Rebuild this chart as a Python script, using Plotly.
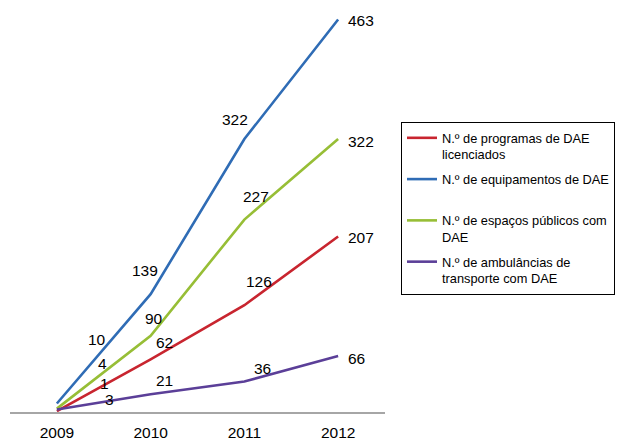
import plotly.graph_objects as go

years = ["2009", "2010", "2011", "2012"]
series_names = [
    "N.º de programas de DAE<br>licenciados",
    "N.º de equipamentos de DAE<br>&nbsp;",
    "N.º de espaços públicos com<br>DAE",
    "N.º de ambulâncias de<br>transporte com DAE",
]
programas = [1, 62, 126, 207]
equipamentos = [10, 139, 322, 463]
espacos = [4, 90, 227, 322]
ambulancias = [3, 21, 36, 66]

values = [programas, equipamentos, espacos, ambulancias]
colors = ["#C8252F", "#2F6CB5", "#97BE36", "#5B3F98"]

# label pixel offsets (dx right, dy down) relative to each point
label_offsets = [
    [(48, -28), (14, -17), (15, -24), (23, 1)],
    [(40, -64), (-6, -24), (-9, -20), (23, 1)],
    [(46, -45), (3, -17), (12, -23), (23, 2)],
    [(53, -10), (14, -14), (18, -13), (18, 2)],
]

FONT = "Liberation Sans, Arial, Helvetica, sans-serif"

fig = go.Figure()
for i, (name, vals, col) in enumerate(zip(series_names, values, colors)):
    fig.add_trace(go.Scatter(
        x=years, y=vals, name=name, mode="lines",
        line=dict(color=col, width=2.6),
        cliponaxis=False, legendgroup=f"g{i}",
    ))

annotations = []
for vals, offs in zip(values, label_offsets):
    for idx, (v, (dx, dy)) in enumerate(zip(vals, offs)):
        annotations.append(dict(
            x=idx, y=v, xref="x", yref="y", text=str(v), showarrow=False,
            xshift=dx, yshift=-dy,
            font=dict(family=FONT, size=15.5, color="#000000"),
        ))

fig.update_layout(
    width=617, height=441,
    margin=dict(l=10, r=232, t=0, b=29),
    paper_bgcolor="white", plot_bgcolor="white",
    font=dict(family=FONT, color="#000000"),
    annotations=annotations,
    showlegend=True,
    legend=dict(
        xref="container", yref="container",
        x=401 / 617, y=1 - 122 / 441,
        xanchor="left", yanchor="top",
        bordercolor="#000000", borderwidth=1,
        bgcolor="white",
        valign="top",
        font=dict(family=FONT, size=12.8, color="#000000"),
        tracegroupgap=5,
    ),
    xaxis=dict(
        type="category", range=[-0.5, 3.5],
        showline=True, linecolor="#A6A6A6", linewidth=1.5,
        showgrid=False, zeroline=False, ticks="",
        tickfont=dict(family=FONT, size=15.5, color="#000000"),
        ticklabelstandoff=6,
    ),
    yaxis=dict(
        range=[0, 486], visible=False,
    ),
)

fig.write_html("out.html")
